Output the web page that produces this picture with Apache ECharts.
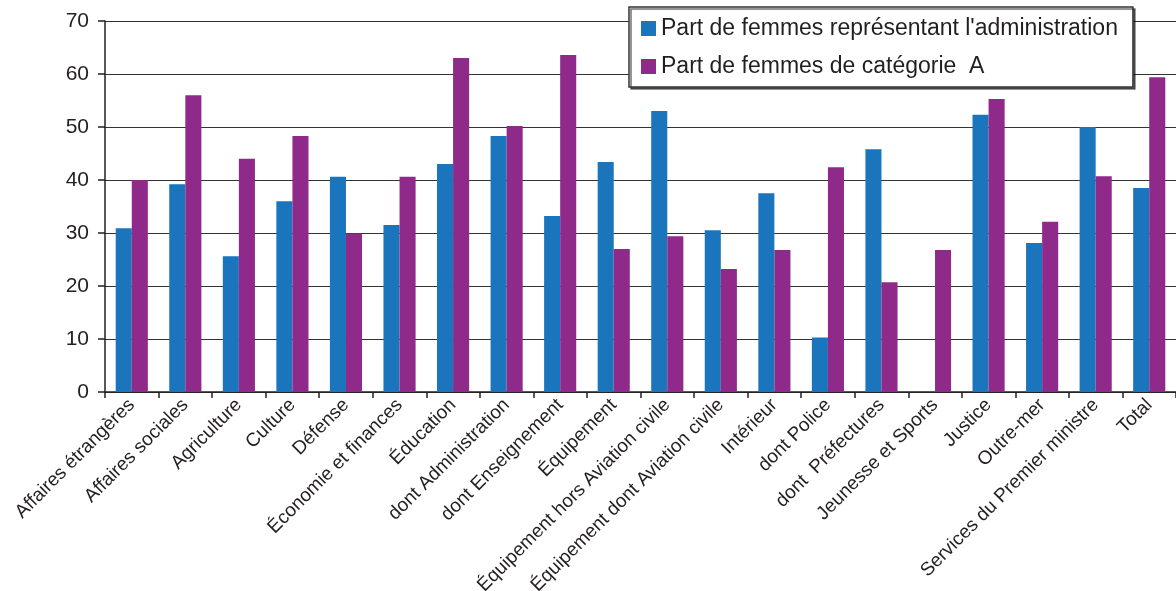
<!DOCTYPE html>
<html>
<head>
<meta charset="utf-8">
<script src="https://cdn.jsdelivr.net/npm/echarts@6/dist/echarts.min.js"></script>
<style>
html,body{margin:0;padding:0;background:#fff;}
#chart{width:1176px;height:591px;}
</style>
</head>
<body>
<div id="chart"></div>
<script>
const categories = ["Affaires étrangères","Affaires sociales","Agriculture","Culture","Défense","Économie et finances","Éducation","dont Administration","dont Enseignement","Équipement","Équipement hors Aviation civile","Équipement dont Aviation civile","Intérieur","dont Police","dont  Préfectures","Jeunesse et Sports","Justice","Outre-mer","Services du Premier ministre","Total"];
const seriesNames = ["Part de femmes représentant l'administration","Part de femmes de catégorie  A"];
const partAdministration = [30.9,39.2,25.6,36.0,40.6,31.5,43.0,48.3,33.2,43.4,53.0,30.5,37.5,10.3,45.8,null,52.3,28.1,50.0,38.5];
const partCategorieA = [40.0,56.0,44.0,48.3,29.9,40.6,63.0,50.2,63.6,27.0,29.4,23.2,26.8,42.4,20.7,26.8,55.3,32.1,40.7,59.4];
const yTicks = {min:0,max:70,interval:10};

const font = '"Liberation Sans", Arial, sans-serif';
const chart = echarts.init(document.getElementById('chart'));
chart.setOption({
  animation:false,
  backgroundColor:'#fff',
  textStyle:{fontFamily:font},
  grid:{left:105,right:0,top:21,bottom:199,containLabel:false,outerBoundsMode:'none'},
  legend:{
    orient:'vertical',
    left:629, top:7,
    padding:[10,15,9,12],
    itemWidth:15, itemHeight:15, itemGap:15,
    icon:'rect',
    backgroundColor:'#fff',
    borderColor:'#333', borderWidth:1.5, borderRadius:0,
    shadowColor:'rgba(0,0,0,0.55)', shadowOffsetX:2, shadowOffsetY:2, shadowBlur:0,
    textStyle:{fontSize:23,color:'#231f20',fontFamily:font,lineHeight:22,padding:[0,0,0,0]},
    data:seriesNames
  },
  xAxis:{
    type:'category',
    data:categories,
    axisLine:{lineStyle:{color:'#231f20',width:1.5}},
    axisTick:{show:true,length:6,alignWithLabel:false,interval:0,lineStyle:{color:'#231f20',width:1.5}},
    axisLabel:{interval:0,rotate:45,fontSize:19,color:'#231f20',margin:10,fontFamily:font}
  },
  yAxis:{
    type:'value',
    min:yTicks.min,max:yTicks.max,interval:yTicks.interval,
    axisLine:{show:true,lineStyle:{color:'#231f20',width:1.5}},
    axisTick:{show:true,inside:false,length:7,lineStyle:{color:'#231f20',width:1.5}},
    axisLabel:{fontSize:21,color:'#231f20',margin:16,fontFamily:font},
    splitLine:{show:true,lineStyle:{color:'#333',width:1.2}}
  },
  series:[
    {name:seriesNames[0],type:'bar',data:partAdministration,barGap:'0%',barCategoryGap:'40%',itemStyle:{color:'#1b75bc'}},
    {name:seriesNames[1],type:'bar',data:partCategorieA,barGap:'0%',barCategoryGap:'40%',itemStyle:{color:'#8f2a8a'}}
  ]
});
</script>
</body>
</html>
